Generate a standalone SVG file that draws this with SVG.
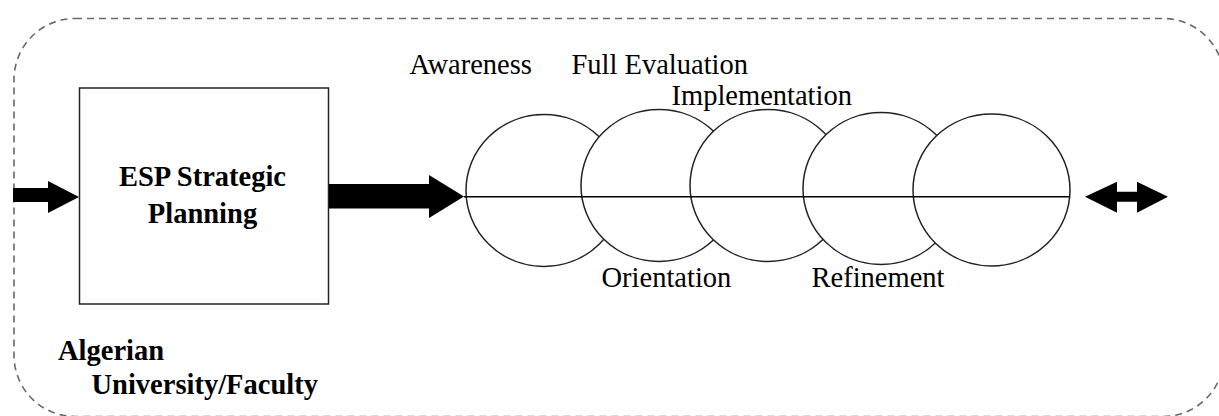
<svg xmlns="http://www.w3.org/2000/svg" width="1219" height="416" viewBox="0 0 1219 416">
  <style>
    .lbl { font-family: 'Liberation Serif', 'Times New Roman', serif; font-size: 28.5px; fill: #000; }
    .bold { font-weight: bold; }
    .phase { fill: #fff; stroke: #222; stroke-width: 1.5; }
    .arrow { fill: #000; stroke: none; }
  </style>
  <g id="frame">
    <rect x="14" y="18.5" width="1210" height="398" rx="61" ry="61" fill="none" stroke="#6a6a6a" stroke-width="1.6" stroke-dasharray="7 5"/>
  </g>
  <g id="esp-box">
    <rect x="79.5" y="88" width="249" height="216" fill="#fff" stroke="#222" stroke-width="1.5"/>
    <text class="lbl bold" x="202.5" y="186" text-anchor="middle">ESP Strategic</text>
    <text class="lbl bold" x="202.5" y="223" text-anchor="middle">Planning</text>
  </g>
  <g id="phases">
    <ellipse class="phase" cx="544" cy="190.5" rx="78" ry="76"/>
    <ellipse class="phase" cx="659" cy="185.5" rx="78" ry="76"/>
    <ellipse class="phase" cx="768" cy="185.5" rx="78" ry="76"/>
    <ellipse class="phase" cx="881" cy="188.5" rx="78" ry="76"/>
    <ellipse class="phase" cx="991.5" cy="190" rx="78.5" ry="76"/>
  </g>
  <g id="connectors">
    <polygon class="arrow" points="13,188 48,188 48,181 79,197 48,213 48,202 13,202"/>
    <polygon class="arrow" points="329,184 429,184 429,175 464,196.5 429,218 429,208.5 329,208.5"/>
    <line x1="464" y1="196.7" x2="1070" y2="196.7" stroke="#000" stroke-width="1.5"/>
    <polygon class="arrow" points="1085,196.7 1117,181.7 1117,191.7 1137,191.7 1137,181.7 1168,196.7 1137,212.7 1137,201.7 1117,201.7 1117,212.7"/>
  </g>
  <g id="labels">
    <text class="lbl" x="409.5" y="74">Awareness</text>
    <text class="lbl" x="571.5" y="74">Full Evaluation</text>
    <text class="lbl" x="671.5" y="105">Implementation</text>
    <text class="lbl" x="601.5" y="287">Orientation</text>
    <text class="lbl" x="811.5" y="287">Refinement</text>
  </g>
  <g id="institution">
    <text class="lbl bold" x="58" y="359.5">Algerian</text>
    <text class="lbl bold" x="91.5" y="393.5">University/Faculty</text>
  </g>
</svg>
